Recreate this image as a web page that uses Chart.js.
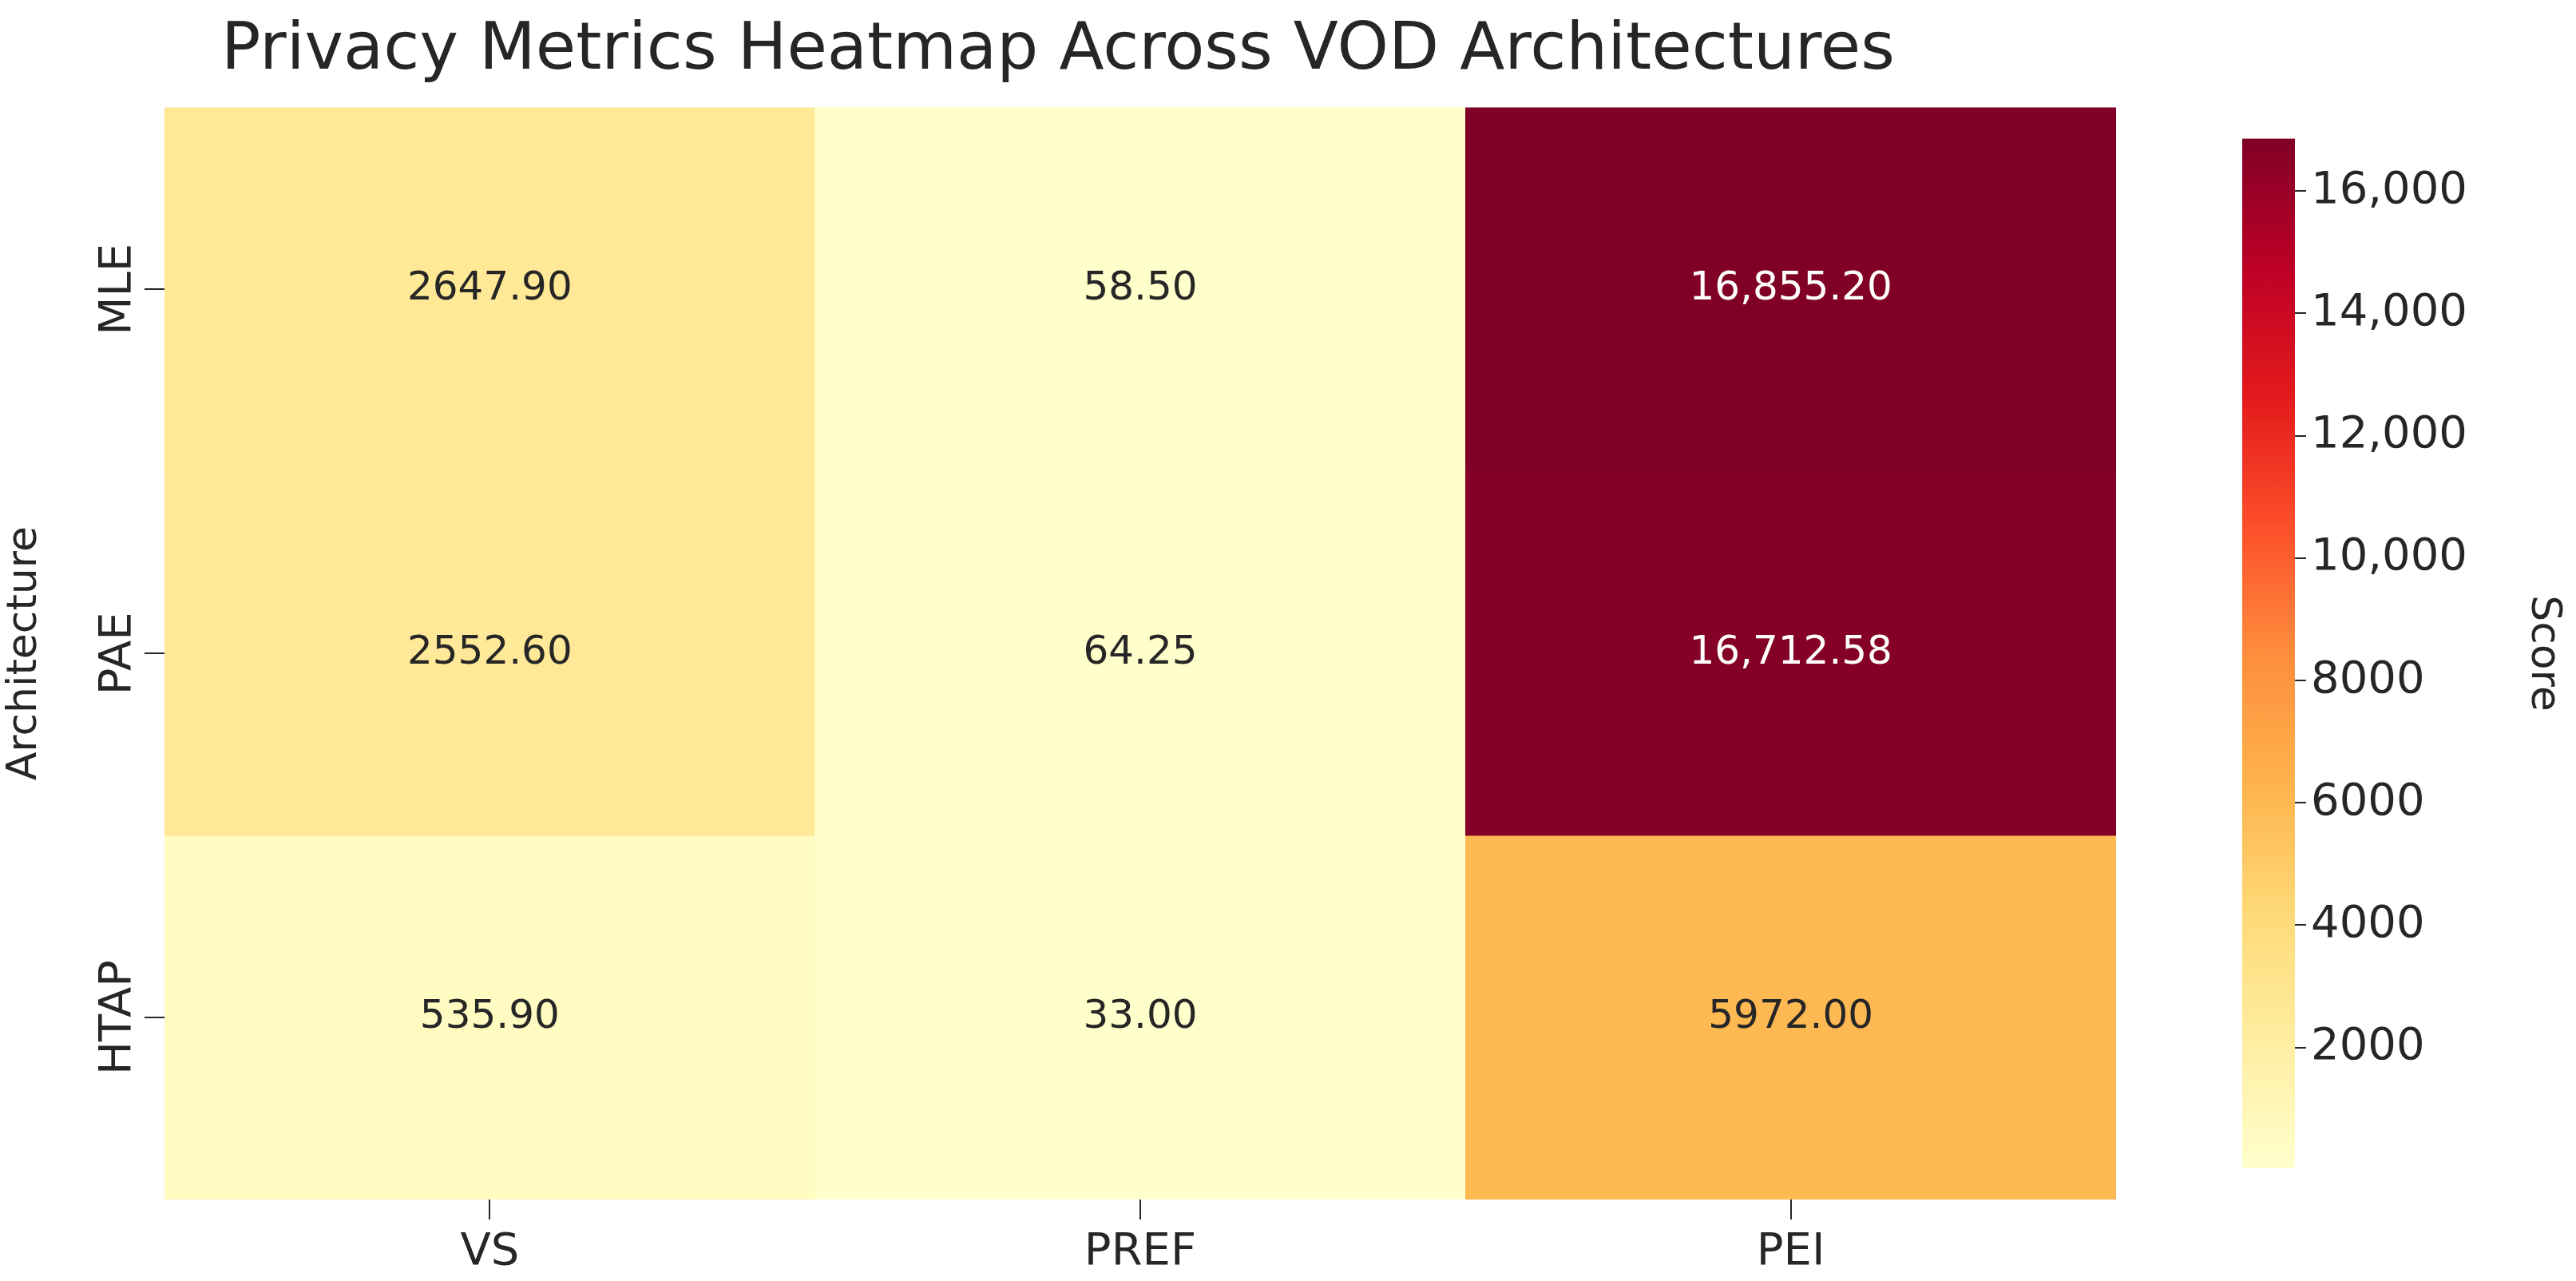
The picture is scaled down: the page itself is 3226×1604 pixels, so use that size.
<!DOCTYPE html>
<html><head><meta charset="utf-8">
<script src="https://cdn.jsdelivr.net/npm/chart.js@4"></script>
<style>html,body{margin:0;padding:0;background:#fff;width:3226px;height:1604px;overflow:hidden}
#m{position:absolute;left:0;top:0;width:2856px;height:1604px}
#c{position:absolute;left:2808px;top:134px;width:418px;height:1368px}</style></head>
<body><div id="m"><canvas id="cm"></canvas></div><div id="c"><canvas id="cc"></canvas></div>
<script>
const columns = ['VS','PREF','PEI'];
const rows = ['MLE','PAE','HTAP'];
const rowMLE = [2647.90, 58.50, 16855.20];
const rowPAE = [2552.60, 64.25, 16712.58];
const rowHTAP = [535.90, 33.00, 5972.00];
const cellLabels = [['2647.90','58.50','16,855.20'],['2552.60','64.25','16,712.58'],['535.90','33.00','5972.00']];
const colorTicks = [2000,4000,6000,8000,10000,12000,14000,16000];
const values = [rowMLE,rowPAE,rowHTAP];
const vmin = 33.00, vmax = 16855.20;
Chart.defaults.devicePixelRatio = 1;
Chart.defaults.font.family = 'DejaVu Sans';
const stops = ['#ffffcc','#ffeda0','#fed976','#feb24c','#fd8d3c','#fc4e2a','#e31a1c','#bd0026','#800026'];
function hex(h){return [1,3,5].map(i=>parseInt(h.substr(i,2),16));}
function cmap(v){let t=(v-vmin)/(vmax-vmin);t=Math.max(0,Math.min(1,t))*8;const i=Math.min(7,Math.floor(t)),f=t-i;
 const a=hex(stops[i]),b=hex(stops[i+1]);return 'rgb('+a.map((x,k)=>Math.round(x+(b[k]-x)*f)).join(',')+')';}
const datasets = rows.map((r,ri)=>({label:r,data:values[ri].map(()=>[ri,ri+1]),backgroundColor:values[ri].map(cmap),
  borderWidth:0,barPercentage:1,categoryPercentage:1,grouped:false}));
const labelPlugin = {id:'lbl',afterDatasetsDraw(ch){const c=ch.ctx,x=ch.scales.x,y=ch.scales.y;c.save();
  c.textAlign='center';c.textBaseline='middle';c.font='50px "DejaVu Sans"';
  rows.forEach((r,ri)=>columns.forEach((col,ci)=>{const v=values[ri][ci];
    c.fillStyle=(v-vmin)/(vmax-vmin)>0.6?'#ffffff':'#262626';
    c.fillText(cellLabels[ri][ci],x.getPixelForValue(ci),y.getPixelForValue(ri+0.5));}));
  c.font='56px "DejaVu Sans"';c.fillStyle='#262626';
  rows.forEach((r,ri)=>{c.save();c.translate(148,y.getPixelForValue(ri+0.5));c.rotate(-Math.PI/2);c.fillText(r,0,0);c.restore();});
  c.restore();}};
new Chart(document.getElementById('cm'),{type:'bar',data:{labels:columns,datasets},plugins:[labelPlugin],
 options:{responsive:true,maintainAspectRatio:false,animation:false,layout:{padding:{right:206,left:0,top:0,bottom:0}},
  plugins:{legend:{display:false},tooltip:{enabled:false},title:{display:true,text:'Privacy Metrics Heatmap Across VOD Architectures',
    color:'#262626',font:{size:82,weight:'normal'},padding:{top:16,bottom:20}}},
  scales:{x:{type:'category',offset:true,grid:{offset:false,drawOnChartArea:false,tickLength:25,color:'#262626',lineWidth:2},border:{display:false},
     ticks:{color:'#262626',font:{size:56},padding:8},afterFit(s){s.height=102;}},
   y:{type:'linear',min:0,max:3,reverse:true,afterBuildTicks(s){s.ticks=[0.5,1.5,2.5].map(v=>({value:v}));},
     grid:{drawOnChartArea:false,tickLength:25,color:'#262626',lineWidth:2},border:{display:false},
     ticks:{callback:()=>''},title:{display:true,text:'Architecture',color:'#262626',font:{size:52},padding:0},
     afterFit(s){s.width=206;}}}}});
new Chart(document.getElementById('cc'),{type:'bar',data:{labels:['s'],datasets:[{data:[[vmin,vmax]],borderWidth:0,barPercentage:1,categoryPercentage:1,
  backgroundColor(ctx){const a=ctx.chart.chartArea;if(!a)return '#fff';const y=ctx.chart.scales.y;
   const g=ctx.chart.ctx.createLinearGradient(0,y.getPixelForValue(vmin),0,y.getPixelForValue(vmax));
   stops.forEach((s,i)=>g.addColorStop(i/8,s));return g;}}]},
 options:{responsive:true,maintainAspectRatio:false,animation:false,layout:{padding:0},
  plugins:{legend:{display:false},tooltip:{enabled:false}},
  scales:{x:{display:false,afterFit(s){s.height=0;}},
   y:{position:'right',min:vmin,max:vmax,afterBuildTicks(s){s.ticks=colorTicks.map(v=>({value:v}));},
    grid:{drawOnChartArea:false,tickLength:14,color:'#262626',lineWidth:2},border:{display:false},
    ticks:{color:'#262626',font:{size:56},padding:6,callback:v=>v>=10000?v.toLocaleString('en-US'):String(v)},
    title:{display:true,text:'Score',color:'#262626',font:{size:52},padding:{top:10}},afterFit(s){s.width=352;}}}}});
</script></body></html>
